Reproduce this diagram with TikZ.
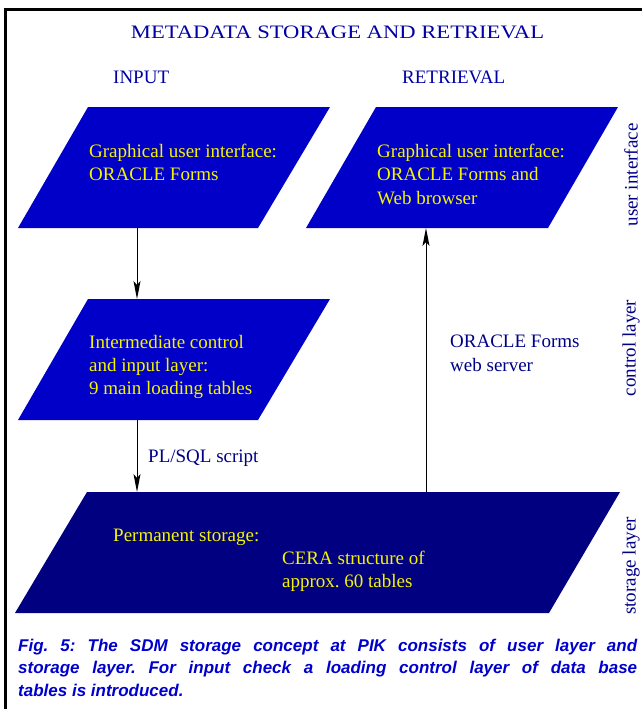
\documentclass[tikz,border=0pt]{standalone}
\usepackage{fontspec}
\setmainfont{Liberation Serif}
\newfontfamily\capfont{Liberation Sans}
\usepackage{graphicx}
\usetikzlibrary{arrows.meta}
\definecolor{uiblue}{RGB}{0,0,200}
\definecolor{deepnavy}{RGB}{0,0,128}
\definecolor{inyellow}{RGB}{245,245,0}
\definecolor{headblue}{RGB}{0,0,165}
\definecolor{lblblue}{RGB}{0,0,135}
\definecolor{capblue}{RGB}{0,0,205}

\begin{document}
\begin{tikzpicture}[x=1pt,y=-1pt,
  intext/.style={text=inyellow,font=\fontsize{19}{23.3}\selectfont,align=left,
                 anchor=north west,inner sep=0pt},
  lbl/.style={text=lblblue,font=\fontsize{19}{23.3}\selectfont,align=left,
              anchor=north west,inner sep=0pt},
  side/.style={text=lblblue,font=\fontsize{19}{23}\selectfont,rotate=90,inner sep=0pt},
  arr/.style={-{Stealth[length=18pt,width=7pt,inset=4pt]},line width=1pt,black}]
  \useasboundingbox (0,0) rectangle (642,709);
  \draw[line width=3pt] (5,709) -- (5,10) -- (642,10);

  \node[text=headblue,anchor=base,inner sep=0pt,font=\fontsize{19}{23}\selectfont] (title) at (337.5,39)
    {\scalebox{1.19}[1]{METADATA STORAGE AND RETRIEVAL}};
  \node[lbl,text=headblue,anchor=base west] (inhead) at (113,83) {INPUT};
  \node[lbl,text=headblue,anchor=base west] (rethead) at (402,83) {RETRIEVAL};

  \fill[uiblue] (88,107) -- (330,107) -- (258,228) -- (18,228) -- cycle;
  \fill[uiblue] (376,107) -- (618,107) -- (548,228) -- (306,228) -- cycle;
  \fill[uiblue] (88,299) -- (330,299) -- (258,420) -- (18,420) -- cycle;
  \fill[deepnavy] (87,492) -- (620,492) -- (549,613) -- (15,613) -- cycle;

  \coordinate (iuibot) at (137,228);
  \coordinate (ctltop) at (137,299);
  \coordinate (ctlbot) at (137,420);
  \coordinate (stortop) at (137,492);
  \coordinate (webfoot) at (426,492);
  \coordinate (ruibot) at (426,228);

  \node[intext] (iuitext) at (89,144) {Graphical user interface:\\ORACLE Forms};
  \node[intext] (ruitext) at (377,144) {Graphical user interface:\\ORACLE Forms and\\Web browser};
  \node[intext] (ctltext) at (89,335) {Intermediate control\\and input layer:\\9 main loading tables};
  \node[intext,anchor=base west] (stortext) at (113,541) {Permanent storage:};
  \node[intext] (ceratext) at (282,551) {CERA structure of\\approx.\ 60 tables};

  \draw[arr] (iuibot) -- (ctltop);
  \draw[arr] (ctlbot) -- (stortop);
  \draw[arr] (webfoot) -- (ruibot);

  \node[lbl,anchor=base west] (plsql) at (148,462) {PL/SQL script};
  \node[lbl] (websrv) at (450,335) {ORACLE Forms\\web server};

  \node[side] (uil) at (631,175) {user interface};
  \node[side] (ctll) at (631,348) {control layer};
  \node[side] (storl) at (631,566) {storage layer};

  \node[anchor=north west,inner sep=0pt,align=left,text=capblue,
        font=\capfont\bfseries\itshape\fontsize{17}{22.5}\selectfont\frenchspacing] (cap) at (18,638.6)
    {\makebox[619pt][s]{Fig. 5: The SDM storage concept at PIK consists of user layer and}\\
     \makebox[619pt][s]{storage layer. For input check a loading control layer of data base}\\
     tables is introduced.};
\end{tikzpicture}
\end{document}
